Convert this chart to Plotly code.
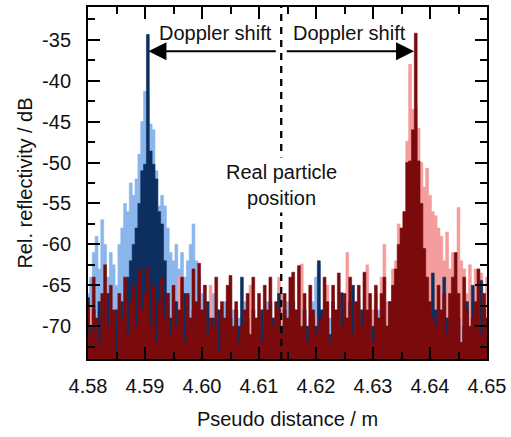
import plotly.graph_objects as go

# Sampling positions (pseudo distance, m): 4.580 ... 4.650 in 0.5 mm steps
x_start = 4.58
x_step = 0.0005
n_pts = 141
x_vals = [round(x_start + i * x_step, 4) for i in range(n_pts)]

# Rel. reflectivity (dB)
light_blue = [
    -66, -64, -61, -59, -63, -57, -60, -64, -61, -62.5,
    -65, -60, -58, -55, -56, -52.5, -54, -52, -49, -45,
    -41.3, -42, -45.3, -46, -51, -55.3, -54, -55.3, -58, -61,
    -62, -60, -63, -61, -64, -62, -60, -57.5, -62, -64,
    -66, -65, -67, -69, -66, -70, -68, -71, -67, -69,
    -70, -68, -72, -69, -71, -67, -70, -68, -72, -69,
    -71, -68, -70, -67, -72, -69, -70, -68, -71, -69,
    -67, -70, -72, -68, -69, -71, -68, -70, -69, -67,
    -64, -62.5, -68, -70, -71, -69, -72, -68, -70, -69,
    -71, -68, -70, -69, -72, -67, -70, -71, -68, -69,
    -70, -72, -68, -69, -71, -70, -68, -69, -71, -70,
    -69, -71, -70, -68, -72, -70, -69, -71, -70, -68,
    -70, -65, -69, -71, -68, -70, -72, -69, -71, -70,
    -68, -70, -72, -69, -71, -70, -68, -69, -67, -70,
    -69,
]

light_red = [
    -70, -68, -72, -69, -71, -67, -70, -73, -68, -71,
    -69, -72, -70, -68, -71, -69, -73, -70, -67, -71,
    -70, -68, -72, -69, -71, -70, -68, -72, -69, -70,
    -71, -69, -63.8, -72, -70, -68, -71, -69, -70, -72,
    -69, -71, -70, -65, -72, -68, -70, -71, -69, -67,
    -70, -72, -68, -71, -69, -70, -72, -65, -68, -71,
    -69, -71, -70, -68, -72, -69, -70, -64, -66, -70,
    -71, -69, -68, -70, -72, -62.4, -69, -71, -65, -70,
    -69, -71, -70, -68, -65, -72, -69, -70, -68, -70,
    -71, -61, -69, -67, -70, -72, -68, -69, -62.5, -70,
    -68, -66, -70, -64, -60, -67, -69, -63, -62, -57.5,
    -59, -56, -47.4, -38, -43.5, -43.5, -45.8, -50, -53, -50.7,
    -54, -56, -56.5, -58, -59, -62, -58.5, -63, -61, -64,
    -55.5, -62, -63, -66, -62.5, -67, -63, -68, -63.5, -66,
    -64,
]

dark_blue = [
    -66.5, -70, -68, -72, -67, -69, -71, -66, -73, -70,
    -68, -71, -67, -70, -64, -62, -60, -58, -55, -51,
    -50.2, -34.35, -48.6, -50.2, -52, -56, -57.5, -62, -66, -69,
    -71, -67, -72, -69, -66, -70, -73, -68, -71, -69,
    -70, -72, -67, -73, -69, -71, -68, -70, -72, -67,
    -69, -71, -68, -70, -64, -72, -69, -73, -68, -70,
    -71, -68, -70, -73, -67, -69, -72, -66, -70, -68,
    -72, -69, -67, -71, -70, -73, -68, -70, -71, -69,
    -70, -62, -68, -72, -69, -71, -67, -70, -73, -65.9,
    -69, -71, -67, -65, -72, -70, -68, -71, -69, -73,
    -70, -68, -71, -69, -72, -70, -67, -71, -69, -70,
    -68, -71, -70, -69, -72, -70, -68, -71, -70, -69,
    -71, -63.5, -68, -70, -72, -64, -69, -71, -68, -70,
    -69, -72, -70, -67, -71, -65, -69, -70, -64.4, -68,
    -71,
]

dark_red = [
    -67, -71, -64, -69, -72, -66, -62.5, -70, -65, -68,
    -73, -66, -69, -64, -71, -67, -65, -70, -63, -68,
    -66, -62.8, -70, -65, -72, -67, -64, -69, -66, -71,
    -65, -70, -68, -64, -72, -66, -69, -63, -67, -62.3,
    -68, -65, -71, -69, -70, -64, -73, -67, -69, -65,
    -63.8, -70, -67, -72, -70, -68, -66, -71, -64, -69,
    -66, -72, -65, -68, -64, -70, -67, -68, -71, -66,
    -69, -64, -63.4, -68, -62.6, -70, -66, -72, -65, -68,
    -71, -70, -69, -64, -67, -72, -65, -68, -63.5, -70,
    -66, -69, -64, -71, -67, -65, -70, -63.4, -68, -66,
    -72, -65, -69, -66, -64, -70, -67, -65, -63, -60,
    -58, -56, -50, -49.8, -46, -34.2, -49.8, -55, -60.5, -64,
    -67, -69, -70, -65, -68, -66, -71, -66, -64, -61,
    -66, -72, -64, -68, -70, -69, -67, -63, -71, -66,
    -69,
]

series = [
    ("light blue", light_blue, "#8ab6ec"),
    ("light red", light_red, "#f59c9c"),
    ("dark blue", dark_blue, "#0c2f60"),
    ("dark red", dark_red, "#7a0a0b"),
]

x_tick_vals = [4.58, 4.59, 4.60, 4.61, 4.62, 4.63, 4.64, 4.65]
x_tick_labels = ["4.58", "4.59", "4.60", "4.61", "4.62", "4.63", "4.64", "4.65"]
y_tick_vals = [-70, -65, -60, -55, -50, -45, -40, -35]
y_tick_labels = ["-70", "-65", "-60", "-55", "-50", "-45", "-40", "-35"]

x_range = [4.58, 4.65]
y_range = [-74, -31]
floor = -80

real_position = 4.6139
blue_peak = 4.5906
red_peak = 4.6372
arrow_y = -36.4

# each sample drawn as a step centred on its position
half = x_step / 2
x_edges = [v - half for v in x_vals] + [x_vals[-1] + half]

fig = go.Figure()
for name, vals, col in series:
    xs = x_edges + [x_edges[-1], x_edges[0]]
    ys = vals + [vals[-1], floor, floor]
    fig.add_trace(go.Scatter(
        x=xs, y=ys, mode="lines", fill="toself", fillcolor=col,
        line=dict(color=col, width=0.6, shape="hv"), name=name, showlegend=False,
        hoverinfo="skip",
    ))

font_family = "Liberation Sans, Arial, sans-serif"
txt_col = "#111111"

fig.add_shape(type="line", x0=real_position, x1=real_position, y0=y_range[0], y1=y_range[1],
              xref="x", yref="y", layer="above",
              line=dict(color="black", width=2.3, dash="7px,6px"))

fig.add_annotation(x=blue_peak, y=arrow_y, ax=real_position - 0.0007, ay=arrow_y,
                   xref="x", yref="y", axref="x", ayref="y", text="",
                   showarrow=True, arrowhead=2, arrowsize=1.8, arrowwidth=2,
                   arrowcolor="black", standoff=0)
fig.add_annotation(x=red_peak, y=arrow_y, ax=real_position + 0.0007, ay=arrow_y,
                   xref="x", yref="y", axref="x", ayref="y", text="",
                   showarrow=True, arrowhead=2, arrowsize=1.8, arrowwidth=2,
                   arrowcolor="black", standoff=0)

fig.add_annotation(x=4.6024, y=-34.2, text="Doppler shift", showarrow=False,
                   font=dict(size=20, color=txt_col, family=font_family))
fig.add_annotation(x=4.6259, y=-34.2, text="Doppler shift", showarrow=False,
                   font=dict(size=20, color=txt_col, family=font_family))
fig.add_annotation(x=real_position, y=-52.7, text="Real particle<br>position", showarrow=False,
                   bgcolor="white", borderpad=3,
                   font=dict(size=20, color=txt_col, family=font_family))

axis_common = dict(
    showline=True, linewidth=2, linecolor="black", mirror="ticks",
    ticks="inside", ticklen=12, tickwidth=2, tickcolor="black",
    showgrid=False, zeroline=False,
    tickfont=dict(size=20, color=txt_col, family=font_family),
)

fig.update_xaxes(
    range=x_range, tickvals=x_tick_vals, ticktext=x_tick_labels,
    minor=dict(ticks="inside", ticklen=7, tickwidth=2, tickcolor="black", dtick=0.005, tick0=4.58),
    title=dict(text="Pseudo distance / m", font=dict(size=20, color=txt_col, family=font_family), standoff=16),
    ticklabelstandoff=8,
    **axis_common,
)
fig.update_yaxes(
    range=y_range, tickvals=y_tick_vals, ticktext=y_tick_labels,
    minor=dict(ticks="inside", ticklen=7, tickwidth=2, tickcolor="black", dtick=2.5, tick0=-70),
    title=dict(text="Rel. reflectivity / dB", font=dict(size=20, color=txt_col, family=font_family), standoff=4),
    ticklabelstandoff=11,
    **axis_common,
)

fig.update_layout(
    width=511, height=437,
    margin=dict(l=88, r=20, t=5, b=78),
    paper_bgcolor="white", plot_bgcolor="white",
    font=dict(family=font_family, size=20, color=txt_col),
    showlegend=False,
)

fig.write_html("out.html")
